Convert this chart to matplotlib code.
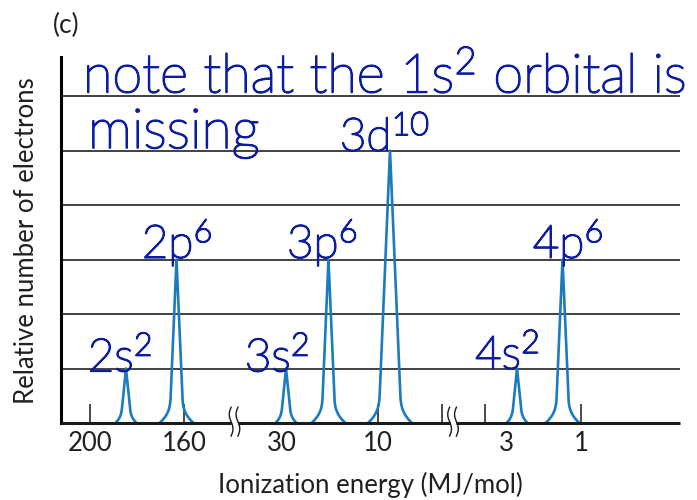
import numpy as np
import matplotlib
matplotlib.use("Agg")
import matplotlib.pyplot as plt
import matplotlib.patheffects as pe

# photoelectron spectrum, positions on a broken energy axis (0-100 across the axes)
orbitals = ["2s", "2p", "3s", "3p", "3d", "4s", "4p"]
electrons = [2, 6, 2, 6, 10, 2, 6]
peak_pos = [10.5, 18.66, 36.35, 43.21, 53.15, 73.67, 81.02]

tick_labels = ["200", "160", "30", "10", "3", "1"]
label_pos = [4.68, 19.87, 35.70, 51.21, 71.89, 84.01]
tick_marks = [4.68, 19.87, 51.21, 61.55, 68.50, 84.01]
breaks = [28.03, 63.33]

label_x = [9.53, 18.74, 34.9, 42.2, 52.3, 72.1, 81.9]
label_y = [0.95, 3.03, 0.95, 3.03, 5.0, 1.0, 3.03]

peak_color = "#1b7bbf"
ink = "#0c1ca3"
px = 619 / 100.0  # pixels per x unit


def peak_outline(center, h):
    # triangle with flared foot, half widths in pixels
    a, b, y0 = {1: (5.5, 5, 0.3), 3: (7, 10, 0.5), 5: (11.5, 10.5, 0.55)}[int(h)]
    y = np.linspace(0, h, 200)
    hw = a * (1 - y / h) + np.where(y < y0, b * np.clip(1 - y / y0, 0, 1) ** 3, 0)
    hw = hw / px
    xs = np.concatenate([center - hw, (center + hw)[::-1]])
    ys = np.concatenate([y, y[::-1]])
    return xs, ys


fig = plt.figure(figsize=(6.97, 5.0), dpi=100)
ax = fig.add_axes([61 / 697, 77 / 500, 619 / 697, 366 / 500])
ax.set_xlim(0, 100)
ax.set_ylim(0, 6.72)

for y in range(1, 7):
    ax.axhline(y, color="#333333", lw=1.3, zorder=1)

heights = [e / 2 for e in electrons]
for c, h in zip(peak_pos, heights):
    xs, ys = peak_outline(c, h)
    ax.plot(xs, ys, color=peak_color, lw=1.9, zorder=3, solid_joinstyle="round")

for s in ["top", "right", "bottom"]:
    ax.spines[s].set_visible(False)
ax.spines["left"].set_linewidth(2.2)

# bottom axis line with gaps at the breaks
gap = 0.55
edges = [0] + [v for b in breaks for v in (b - gap, b + gap)] + [100]
for x0, x1 in zip(edges[::2], edges[1::2]):
    ax.plot([x0, x1], [0, 0], color="#1a1a1a", lw=2.2, clip_on=False, zorder=4,
            solid_capstyle="butt")
t = np.linspace(0, 1, 50)
for b in breaks:
    for side in (-1, 1):
        ax.plot(b + side * gap + 0.3 * np.sin(2 * np.pi * t), -0.24 + 0.53 * t,
                color="#1a1a1a", lw=1.0, clip_on=False, zorder=4)

ax.xaxis.remove_overlapping_locs = False
ax.set_xticks(label_pos)
ax.set_xticklabels(tick_labels, fontfamily="Lato", fontsize=18.5, color="#231f20")
ax.tick_params(axis="x", length=0, pad=6)
ax.set_xticks(tick_marks, minor=True)
ax.tick_params(axis="x", which="minor", direction="in", length=14, width=1.1,
               color="#1a1a1a")
ax.set_yticks([])

fig.text(370 / 697, 1 - 485 / 500, "Ionization energy (MJ/mol)", ha="center",
         va="center", fontfamily="Lato", fontsize=18.5, color="#231f20")
fig.text(27 / 697, 1 - 241 / 500, "Relative number of electrons", rotation=90,
         ha="center", va="center", fontfamily="Lato", fontsize=18.5, color="#231f20")
fig.text(66 / 697, 1 - 25 / 500, "(c)", ha="center", va="center",
         fontfamily="Lato", fontsize=19, color="#231f20")

# pen-like strokes for the hand annotations
pen = [pe.withStroke(linewidth=1.3, foreground=ink)]
hand = dict(fontfamily="Lato", fontweight="light", color=ink, zorder=5,
            path_effects=pen)
for name, e, x, y in zip(orbitals, electrons, label_x, label_y):
    ax.text(x, y, name + r"$\mathregular{^{%d}}$" % e, ha="center", va="baseline",
            fontsize=33, **hand)

ax.text(3.55, 6.07, r"note that the 1s$\mathregular{^2}$ orbital is", ha="left",
        va="baseline", fontsize=39, clip_on=False, **hand)
ax.text(4.36, 5.05, "missing", ha="left", va="baseline", fontsize=40, **hand)

fig.savefig("out.png", dpi=100)
